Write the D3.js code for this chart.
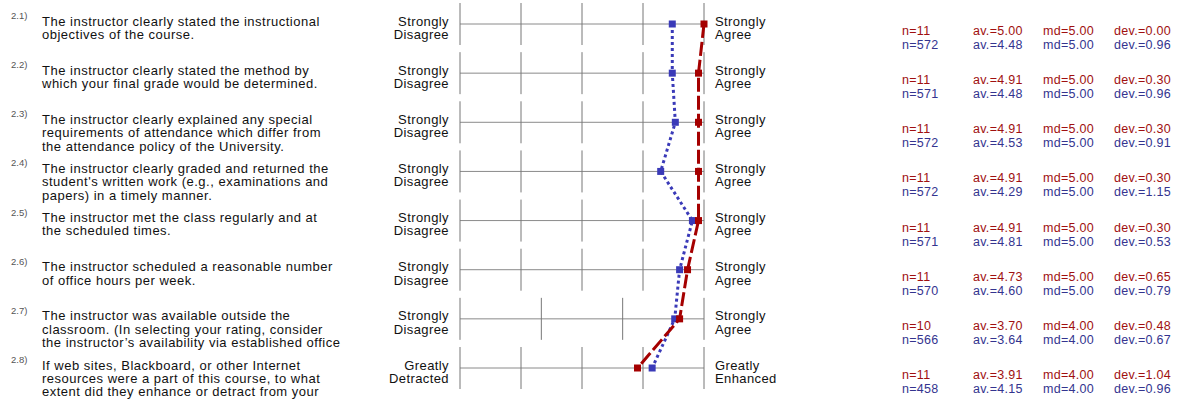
<!DOCTYPE html>
<html>
<head>
<meta charset="utf-8">
<script src="https://cdn.jsdelivr.net/npm/d3@7"></script>
<style>
  body { margin: 0; background: #fff; }
  svg text { font-family: "Liberation Sans", Arial, sans-serif; }
</style>
</head>
<body>
<svg></svg>
<script>
var width = 1182
var height = 401

// data
var itemIds = ["2.1)", "2.2)", "2.3)", "2.4)", "2.5)", "2.6)", "2.7)", "2.8)"]
var questions = [
  ["The instructor clearly stated the instructional", "objectives of the course."],
  ["The instructor clearly stated the method by", "which your final grade would be determined."],
  ["The instructor clearly explained any special", "requirements of attendance which differ from", "the attendance policy of the University."],
  ["The instructor clearly graded and returned the", "student's written work (e.g., examinations and", "papers) in a timely manner."],
  ["The instructor met the class regularly and at", "the scheduled times."],
  ["The instructor scheduled a reasonable number", "of office hours per week."],
  ["The instructor was available outside the", "classroom. (In selecting your rating, consider", "the instructor\u2019s availability via established office"],
  ["If web sites, Blackboard, or other Internet", "resources were a part of this course, to what", "extent did they enhance or detract from your"]
]
var leftLabels = [["Strongly", "Disagree"], ["Strongly", "Disagree"], ["Strongly", "Disagree"], ["Strongly", "Disagree"],
                  ["Strongly", "Disagree"], ["Strongly", "Disagree"], ["Strongly", "Disagree"], ["Greatly", "Detracted"]]
var rightLabels = [["Strongly", "Agree"], ["Strongly", "Agree"], ["Strongly", "Agree"], ["Strongly", "Agree"],
                   ["Strongly", "Agree"], ["Strongly", "Agree"], ["Strongly", "Agree"], ["Greatly", "Enhanced"]]
var scalePoints = [5, 5, 5, 5, 5, 5, 4, 5]

var courseN   = [11, 11, 11, 11, 11, 11, 10, 11]
var courseAv  = [5.00, 4.91, 4.91, 4.91, 4.91, 4.73, 3.70, 3.91]
var courseMd  = [5.00, 5.00, 5.00, 5.00, 5.00, 5.00, 4.00, 4.00]
var courseDev = [0.00, 0.30, 0.30, 0.30, 0.30, 0.65, 0.48, 1.04]

var allN   = [572, 571, 572, 572, 571, 570, 566, 458]
var allAv  = [4.48, 4.48, 4.53, 4.29, 4.81, 4.60, 3.64, 4.15]
var allMd  = [5.00, 5.00, 5.00, 5.00, 5.00, 5.00, 4.00, 4.00]
var allDev = [0.96, 0.96, 0.91, 1.15, 0.53, 0.79, 0.67, 0.96]

var red = "#a50000"
var blue = "#3a3ab8"
var redText = "#a01010"
var blueText = "#34348f"

var svg = d3.select("svg")
  .attr("width", width)
  .attr("height", height)

var yScale = d3.scalePoint()
  .domain(itemIds)
  .range([24, 368])

var chartLeft = 460
var chartRight = 704

function xScaleFor(i) {
  return d3.scaleLinear()
    .domain([1, scalePoints[i]])
    .range([chartLeft, chartRight])
}

var rows = svg.selectAll("g.row")
  .data(itemIds)
  .enter()
    .append("g")
    .attr("class", "row")
    .attr("transform", d => "translate(0," + yScale(d) + ")")

// item numbers
rows.append("text")
  .attr("x", 11)
  .attr("y", -5)
  .attr("font-size", 9.5)
  .attr("fill", "#555")
  .text(d => d)

// question text
rows.append("text")
  .attr("font-size", 13)
  .attr("letter-spacing", 0.5)
  .attr("fill", "#111")
  .selectAll("tspan")
  .data((d, i) => questions[i])
  .enter()
    .append("tspan")
    .attr("x", 42)
    .attr("y", (d, j) => 1.5 + j * 13.4)
    .text(d => d)

// grid
rows.each(function (d, i) {
  var g = d3.select(this)
  var x = xScaleFor(i)
  var ticks = d3.range(1, scalePoints[i] + 1)
  g.append("line")
    .attr("x1", chartLeft).attr("x2", chartRight)
    .attr("y1", 0).attr("y2", 0)
    .attr("stroke", "#8a8a8a")
    .attr("stroke-width", 1)
  g.selectAll("line.v")
    .data(ticks)
    .enter()
      .append("line")
      .attr("class", "v")
      .attr("x1", t => x(t)).attr("x2", t => x(t))
      .attr("y1", -21).attr("y2", 21)
      .attr("stroke", "#777")
      .attr("stroke-width", 1)
})

// scale labels
rows.append("text")
  .attr("font-size", 13)
  .attr("letter-spacing", 0.4)
  .attr("fill", "#111")
  .attr("text-anchor", "end")
  .selectAll("tspan")
  .data((d, i) => leftLabels[i])
  .enter()
    .append("tspan")
    .attr("x", 449)
    .attr("y", (d, j) => 1.5 + j * 13.4)
    .text(d => d)

rows.append("text")
  .attr("font-size", 13)
  .attr("letter-spacing", 0.4)
  .attr("fill", "#111")
  .selectAll("tspan")
  .data((d, i) => rightLabels[i])
  .enter()
    .append("tspan")
    .attr("x", 715)
    .attr("y", (d, j) => 1.5 + j * 13.4)
    .text(d => d)

// profile lines
var profileLine = d3.line()
  .x((d, i) => xScaleFor(i)(d))
  .y((d, i) => yScale(itemIds[i]))

svg.append("path")
  .datum(allAv)
  .attr("d", profileLine)
  .attr("fill", "none")
  .attr("stroke", blue)
  .attr("stroke-width", 3)
  .attr("stroke-dasharray", "3,3")

svg.selectAll("rect.blue")
  .data(allAv)
  .enter()
    .append("rect")
    .attr("class", "blue")
    .attr("x", (d, i) => xScaleFor(i)(d) - 3.5)
    .attr("y", (d, i) => yScale(itemIds[i]) - 3.5)
    .attr("width", 7)
    .attr("height", 7)
    .attr("fill", blue)

svg.append("path")
  .datum(courseAv)
  .attr("d", profileLine)
  .attr("fill", "none")
  .attr("stroke", red)
  .attr("stroke-width", 3)
  .attr("stroke-dasharray", "14,4")

svg.selectAll("rect.red")
  .data(courseAv)
  .enter()
    .append("rect")
    .attr("class", "red")
    .attr("x", (d, i) => xScaleFor(i)(d) - 3.5)
    .attr("y", (d, i) => yScale(itemIds[i]) - 3.5)
    .attr("width", 7)
    .attr("height", 7)
    .attr("fill", red)

// statistics
var statCols = [902, 973, 1043, 1114]
var f2 = d3.format(".2f")

rows.each(function (d, i) {
  var g = d3.select(this)
  var redVals = ["n=" + courseN[i], "av.=" + f2(courseAv[i]), "md=" + f2(courseMd[i]), "dev.=" + f2(courseDev[i])]
  var blueVals = ["n=" + allN[i], "av.=" + f2(allAv[i]), "md=" + f2(allMd[i]), "dev.=" + f2(allDev[i])]
  g.selectAll("text.sr")
    .data(redVals)
    .enter()
      .append("text")
      .attr("class", "sr")
      .attr("x", (v, k) => statCols[k])
      .attr("y", 11)
      .attr("font-size", 12.5)
      .attr("letter-spacing", 0.3)
      .attr("fill", redText)
      .text(v => v)
  g.selectAll("text.sb")
    .data(blueVals)
    .enter()
      .append("text")
      .attr("class", "sb")
      .attr("x", (v, k) => statCols[k])
      .attr("y", 25)
      .attr("font-size", 12.5)
      .attr("letter-spacing", 0.3)
      .attr("fill", blueText)
      .text(v => v)
})
</script>
</body>
</html>
